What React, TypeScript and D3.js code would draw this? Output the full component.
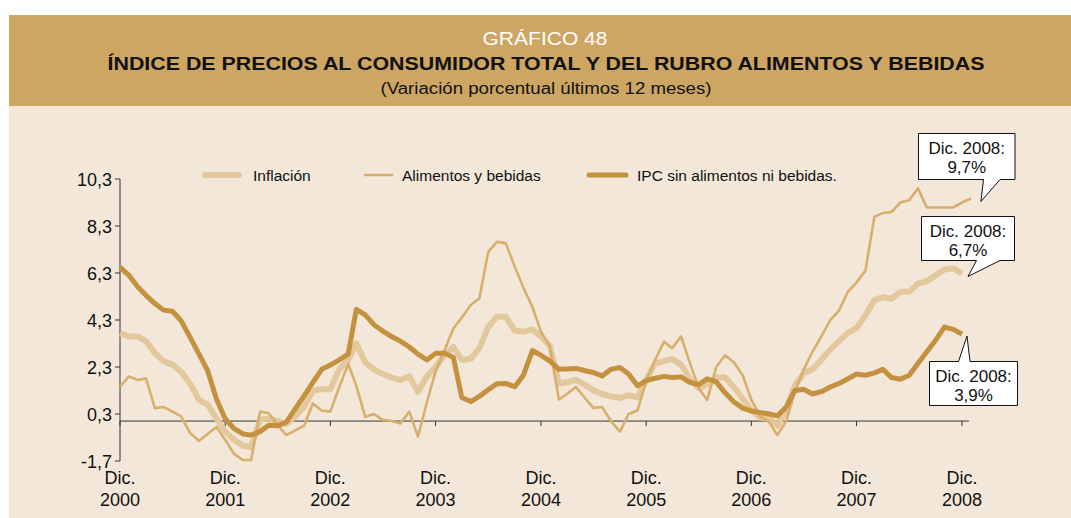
import React from "react";
import * as d3 from "d3";

// ---- DATA (monthly, % change last 12 months) ----
const startYear = 2000;
const startMonth = 11; // December 2000

const inflacion = [
  3.73, 3.6, 3.6, 3.4, 2.9, 2.55, 2.4, 2.1, 1.6, 0.9,
  0.7, 0.1, -0.45, -0.8, -1.05, -1.12, 0.05, 0.11, 0.0, -0.12,
  0.2, 0.6, 1.3, 1.35, 1.35, 2.2, 2.6, 3.3, 2.5, 2.2,
  2.0, 1.85, 1.75, 1.9, 1.25, 1.9, 2.3, 2.8, 3.15, 2.6,
  2.65, 3.1, 4.0, 4.44, 4.44, 3.85, 3.8, 3.9, 3.6, 3.2,
  1.6, 1.65, 1.75, 1.55, 1.3, 1.15, 1.05, 0.98, 1.1, 1.0,
  1.75, 2.45, 2.55, 2.65, 2.4, 1.8, 1.4, 1.55, 1.85, 1.85,
  1.45, 0.95, 0.45, 0.15, 0.1, -0.2, 0.5, 1.5, 2.05, 2.2,
  2.6, 3.05, 3.4, 3.75, 3.95, 4.5, 5.15, 5.28, 5.2, 5.5,
  5.5, 5.85, 5.95, 6.2, 6.45, 6.5, 6.28,
];

const alimentos = [
  1.46, 1.9, 1.75, 1.82, 0.55, 0.6, 0.4, 0.2, -0.5, -0.85,
  -0.55, -0.25, -0.8, -1.4, -1.66, -1.66, 0.4, 0.33, -0.17, -0.6,
  -0.4, -0.2, 0.75, 0.45, 0.4, 1.45, 2.43, 1.5, 0.18, 0.3,
  0.05, 0.0, -0.1, 0.4, -0.66, 0.8, 2.1, 3.0, 3.94, 4.4,
  4.94, 5.22, 7.2, 7.63, 7.56, 6.57, 5.67, 4.86, 3.8, 3.16,
  0.92, 1.15, 1.45, 1.0, 0.56, 0.6, 0.0, -0.45, 0.3, 0.45,
  1.7, 2.6, 3.38, 3.1, 3.6, 2.5, 1.4, 0.9, 2.3, 2.8,
  2.5, 1.95, 0.9, 0.2, -0.05, -0.6, 0.0, 1.25, 2.2, 2.95,
  3.6, 4.3, 4.7, 5.5, 5.9, 6.4, 8.7, 8.85, 8.9, 9.3,
  9.4, 9.9, 9.09, 9.09, 9.09, 9.09, 9.3, 9.47,
];

const ipcSinAlimentos = [
  6.55, 6.2, 5.7, 5.35, 5.0, 4.72, 4.67, 4.27, 3.57, 2.85,
  2.15, 0.93, 0.1, -0.32, -0.55, -0.6, -0.45, -0.18, -0.2, -0.05,
  0.52, 1.07, 1.64, 2.2, 2.38, 2.6, 2.85, 4.75, 4.52, 4.1,
  3.83, 3.6, 3.4, 3.15, 2.85, 2.6, 2.88, 2.89, 2.7, 1.0,
  0.83, 1.05, 1.33, 1.59, 1.6, 1.46, 1.95, 3.0, 2.8, 2.55,
  2.2, 2.22, 2.24, 2.15, 2.06, 1.92, 2.2, 2.28, 2.0, 1.5,
  1.72, 1.82, 1.9, 1.85, 1.88, 1.65, 1.55, 1.8, 1.67, 1.2,
  0.82, 0.55, 0.43, 0.36, 0.3, 0.22, 0.6, 1.3, 1.35, 1.15,
  1.25, 1.45, 1.6, 1.8, 2.0, 1.95, 2.05, 2.2, 1.85, 1.78,
  1.95, 2.45, 2.95, 3.45, 4.0, 3.9, 3.7,
];

const yTicks = [-1.7, 0.3, 2.3, 4.3, 6.3, 8.3, 10.3];
const xTickYears = [2000, 2001, 2002, 2003, 2004, 2005, 2006, 2007, 2008];

const legendLabels = ["Inflación", "Alimentos y bebidas", "IPC sin alimentos ni bebidas."];
const calloutLabels = [
  ["Dic. 2008:", "9,7%"],
  ["Dic. 2008:", "6,7%"],
  ["Dic. 2008:", "3,9%"],
];

// ---- STYLE ----
const W = 1071;
const H = 518;
const FONT = "'Liberation Sans', Arial, Helvetica, sans-serif";
const C_HEADER = "#CDA664";
const C_BG = "#F2E7D8";
const C_INFL = "#E3C89D";
const C_ALIM = "#D8AF6D";
const C_IPC = "#C4913F";
const C_AXIS = "#333333";

const dateOf = (i: number) => new Date(startYear, startMonth + i, 1);

export default function App() {
  const x = d3
    .scaleTime()
    .domain([new Date(2000, 11, 1), new Date(2008, 11, 1)])
    .range([120, 962]);
  const y = d3.scaleLinear().domain([-1.7, 10.3]).range([461, 179]);

  const line = d3
    .line<number>()
    .x((_, i) => x(dateOf(i)))
    .y((d) => y(d));

  const fmt = (v: number) => v.toFixed(1).replace(".", ",");

  const series = [
    { data: inflacion, color: C_INFL, width: 6 },
    { data: alimentos, color: C_ALIM, width: 2.6 },
    { data: ipcSinAlimentos, color: C_IPC, width: 5 },
  ];

  const xEnd = x(dateOf(alimentos.length - 1)) + 0;

  // callouts: box + pointer tip located near the series end
  const lastPt = (arr: number[]) => [x(dateOf(arr.length - 1)), y(arr[arr.length - 1])];
  const [a1x, a1y] = lastPt(alimentos);
  const [a2x, a2y] = lastPt(inflacion);
  const [a3x, a3y] = lastPt(ipcSinAlimentos);

  const callouts = [
    {
      box: [918.5, 133.5, 1015, 179.5],
      base: [983.5, 1000],
      tip: [a1x + 10, a1y + 3],
      side: "bottom",
      lines: calloutLabels[0],
      ty: [154, 173],
    },
    {
      box: [921.5, 216.5, 1014.5, 260.5],
      base: [976.5, 1000],
      tip: [a2x + 6, a2y + 3],
      side: "bottom",
      lines: calloutLabels[1],
      ty: [237, 256],
    },
    {
      box: [929.5, 361.5, 1017.5, 405.5],
      base: [958.5, 970],
      tip: [a3x + 5, a3y + 2],
      side: "top",
      lines: calloutLabels[2],
      ty: [382, 401],
    },
  ];

  const calloutPath = (c: any) => {
    const [x0, y0, x1, y1] = c.box;
    const [b0, b1] = c.base;
    const [tx, ty] = c.tip;
    if (c.side === "bottom") {
      return `M${x0},${y0}L${x1},${y0}L${x1},${y1}L${b1},${y1}L${tx},${ty}L${b0},${y1}L${x0},${y1}Z`;
    }
    return `M${x0},${y0}L${b0},${y0}L${tx},${ty}L${b1},${y0}L${x1},${y0}L${x1},${y1}L${x0},${y1}Z`;
  };

  const legendItems = [
    { label: legendLabels[0], color: C_INFL, width: 6, x1: 205, x2: 239, tx: 253 },
    { label: legendLabels[1], color: C_ALIM, width: 2.6, x1: 365, x2: 392, tx: 402 },
    { label: legendLabels[2], color: C_IPC, width: 5, x1: 589, x2: 626, tx: 637 },
  ];

  return (
    <div style={{ position: "absolute", left: 0, top: 0 }}>
      <svg width={W} height={H} style={{ display: "block", fontFamily: FONT }}>
        <rect x={0} y={0} width={W} height={H} fill="#ffffff" />
        <rect x={9} y={15} width={W - 9} height={91} fill={C_HEADER} />
        <rect x={9} y={106} width={W - 9} height={H - 106} fill={C_BG} />

        {/* titles */}
        <text x={545} y={45} textAnchor="middle" fill="#ffffff" fontSize={19} textLength={125} lengthAdjust="spacingAndGlyphs">
          GRÁFICO 48
        </text>
        <text x={546} y={70} textAnchor="middle" fill="#111" fontSize={19} fontWeight="bold" textLength={877} lengthAdjust="spacingAndGlyphs">
          ÍNDICE DE PRECIOS AL CONSUMIDOR TOTAL Y DEL RUBRO ALIMENTOS Y BEBIDAS
        </text>
        <text x={546} y={94} textAnchor="middle" fill="#111" fontSize={16} textLength={331} lengthAdjust="spacingAndGlyphs">
          (Variación porcentual últimos 12 meses)
        </text>

        {/* legend */}
        {legendItems.map((l, i) => (
          <g key={i}>
            <line x1={l.x1} x2={l.x2} y1={175} y2={175} stroke={l.color} strokeWidth={l.width} strokeLinecap="round" />
            <text x={l.tx} y={180.5} fontSize={15.5} fill="#111">
              {l.label}
            </text>
          </g>
        ))}

        {/* axes */}
        <line x1={120} x2={120} y1={y(10.3)} y2={y(-1.7)} stroke={C_AXIS} strokeWidth={1} />
        {yTicks.map((t) => (
          <g key={t}>
            <line x1={115} x2={120} y1={y(t)} y2={y(t)} stroke={C_AXIS} strokeWidth={1} />
            <text x={112} y={y(t) + 6.5} textAnchor="end" fontSize={18} fill="#111">
              {fmt(t)}
            </text>
          </g>
        ))}
        <line x1={120} x2={969} y1={y(0)} y2={y(0)} stroke={C_AXIS} strokeWidth={1} />
        {xTickYears.map((yr) => {
          const xp = x(new Date(yr, 11, 1));
          return (
            <g key={yr}>
              <line x1={xp} x2={xp} y1={y(0)} y2={y(0) + 5} stroke={C_AXIS} strokeWidth={1} />
              <text x={xp} y={484} textAnchor="middle" fontSize={18} fill="#111">
                Dic.
              </text>
              <text x={xp} y={506} textAnchor="middle" fontSize={18} fill="#111">
                {yr}
              </text>
            </g>
          );
        })}

        {/* series */}
        {series.map((s, i) => (
          <path key={i} d={line(s.data) || ""} fill="none" stroke={s.color} strokeWidth={s.width} strokeLinejoin="round" />
        ))}

        {/* callouts */}
        {callouts.map((c, i) => (
          <g key={i}>
            <path d={calloutPath(c)} fill="#ffffff" stroke="#111" strokeWidth={1} />
            <text x={(c.box[0] + c.box[2]) / 2} y={c.ty[0]} textAnchor="middle" fontSize={17} fill="#111">
              {c.lines[0]}
            </text>
            <text x={(c.box[0] + c.box[2]) / 2} y={c.ty[1]} textAnchor="middle" fontSize={17} fill="#111">
              {c.lines[1]}
            </text>
          </g>
        ))}
      </svg>
    </div>
  );
}
